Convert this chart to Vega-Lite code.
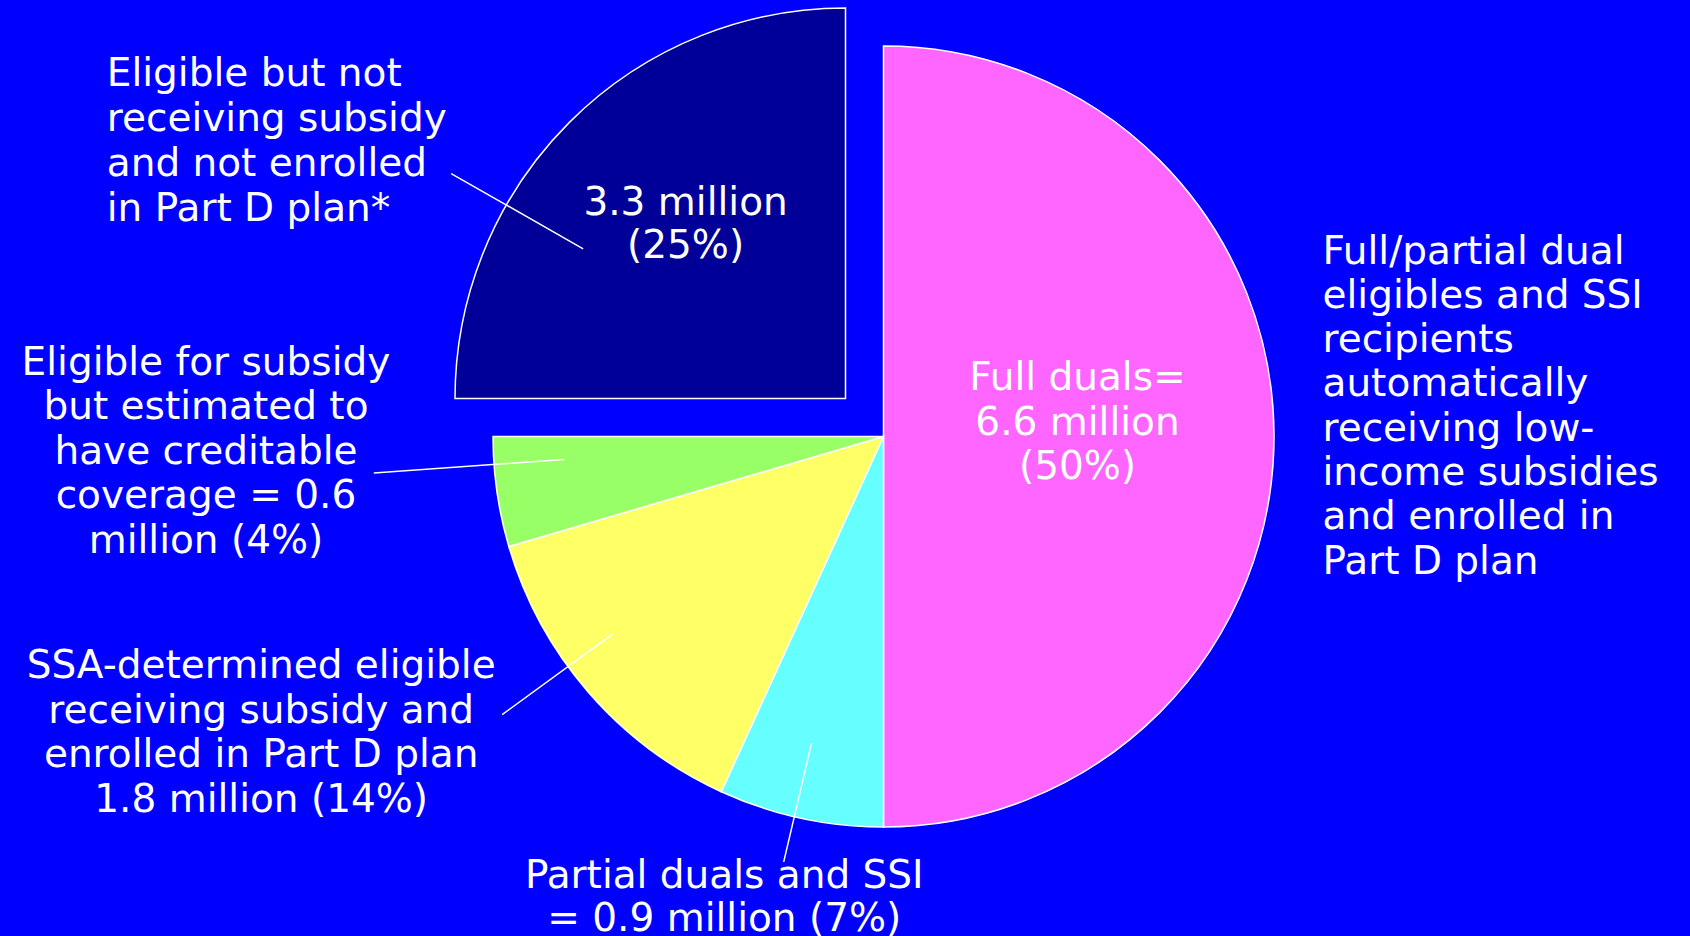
{
  "$schema": "https://vega.github.io/schema/vega-lite/v6.json",
  "autosize": "none",
  "width": 1613,
  "height": 873,
  "padding": {"left": 77, "top": 0, "right": 0, "bottom": 63},
  "background": "#0000FF",
  "config": {"view": {"stroke": null}, "text": {"font": "DejaVu Sans"}},
  "data": {
    "values": [
      {"segment": "Full duals", "millions": 6.6, "rank": 1,
       "inner": ["Full duals=", "6.6 million", "(50%)"],
       "label": ["Full/partial dual", "eligibles and SSI", "recipients", "automatically", "receiving low-", "income subsidies", "and enrolled in", "Part D plan"]},
      {"segment": "Partial duals and SSI", "millions": 0.9, "rank": 2,
       "label": ["Partial duals and SSI", "= 0.9 million (7%)"]},
      {"segment": "SSA-determined eligible", "millions": 1.8, "rank": 3,
       "label": ["SSA-determined eligible", "receiving subsidy and", "enrolled in Part D plan", "1.8 million (14%)"]},
      {"segment": "Eligible, creditable coverage", "millions": 0.6, "rank": 4,
       "label": ["Eligible for subsidy", "but estimated to", "have creditable", "coverage = 0.6", "million (4%)"]},
      {"segment": "Eligible, not enrolled", "millions": 3.3, "rank": 5,
       "inner": ["3.3 million", "(25%)"],
       "label": ["Eligible but not", "receiving subsidy", "and not enrolled", "in Part D plan*"]}
    ]
  },
  "encoding": {
    "theta": {"field": "millions", "type": "quantitative", "stack": true},
    "order": {"field": "rank", "type": "quantitative", "sort": "ascending"}
  },
  "layer": [
    {
      "mark": {"type": "arc", "outerRadius": 390.5, "stroke": "white", "strokeWidth": 1.5},
      "encoding": {
        "color": {"field": "segment", "type": "nominal", "legend": null,
          "scale": {"domain": ["Full duals", "Partial duals and SSI", "SSA-determined eligible", "Eligible, creditable coverage", "Eligible, not enrolled"],
                    "range": ["#FF66FF", "#66FFFF", "#FFFF66", "#99FF66", "#000099"]}},
        "opacity": {"condition": {"test": "datum.segment === 'Eligible, not enrolled'", "value": 0}, "value": 1}
      }
    },
    {
      "mark": {"type": "arc", "outerRadius": 390.5, "stroke": "white", "strokeWidth": 1.5, "xOffset": -38, "yOffset": -38},
      "encoding": {
        "color": {"field": "segment", "type": "nominal", "legend": null},
        "opacity": {"condition": {"test": "datum.segment === 'Eligible, not enrolled'", "value": 1}, "value": 0}
      }
    },
    {
      "mark": {"type": "arc", "filled": false, "color": "white", "strokeWidth": 1.5, "innerRadius": 302, "outerRadius": 454, "padAngle": 3.1, "thetaOffset": -0.267, "xOffset": -38, "yOffset": -38},
      "encoding": {"opacity": {"condition": {"test": "datum.segment === 'Eligible, not enrolled'", "value": 1}, "value": 0}}
    },
    {
      "mark": {"type": "arc", "filled": false, "color": "white", "strokeWidth": 1.5, "innerRadius": 320, "outerRadius": 511, "padAngle": 3.1, "thetaOffset": 0.0712},
      "encoding": {"opacity": {"condition": {"test": "datum.segment === 'Eligible, creditable coverage'", "value": 1}, "value": 0}}
    },
    {
      "mark": {"type": "arc", "filled": false, "color": "white", "strokeWidth": 1.5, "innerRadius": 335, "outerRadius": 472, "padAngle": 3.1, "thetaOffset": 0.0839},
      "encoding": {"opacity": {"condition": {"test": "datum.segment === 'SSA-determined eligible'", "value": 1}, "value": 0}}
    },
    {
      "mark": {"type": "arc", "filled": false, "color": "white", "strokeWidth": 1.5, "innerRadius": 315, "outerRadius": 437, "padAngle": 3.1, "thetaOffset": 0.0162},
      "encoding": {"opacity": {"condition": {"test": "datum.segment === 'Partial duals and SSI'", "value": 1}, "value": 0}}
    },
    {
      "mark": {"type": "text", "color": "white", "fontSize": 39, "lineHeight": 44.5, "align": "center", "baseline": "alphabetic", "radius": 194, "dx": 0, "dy": -46.5},
      "encoding": {"text": {"condition": {"test": "datum.segment === 'Full duals'", "field": "inner", "type": "nominal"}, "value": ""}}
    },
    {
      "mark": {"type": "text", "color": "white", "fontSize": 39, "lineHeight": 44.3, "align": "left", "baseline": "alphabetic", "radius": 439, "dx": 0, "dy": -173},
      "encoding": {"text": {"condition": {"test": "datum.segment === 'Full duals'", "field": "label", "type": "nominal"}, "value": ""}}
    },
    {
      "mark": {"type": "text", "color": "white", "fontSize": 39, "lineHeight": 43.5, "align": "center", "baseline": "alphabetic", "radius": 460, "dx": -61.5, "dy": 1.7},
      "encoding": {"text": {"condition": {"test": "datum.segment === 'Partial duals and SSI'", "field": "label", "type": "nominal"}, "value": ""}}
    },
    {
      "mark": {"type": "text", "color": "white", "fontSize": 39, "lineHeight": 44.5, "align": "center", "baseline": "alphabetic", "radius": 650, "dx": -131.1, "dy": -183.8},
      "encoding": {"text": {"condition": {"test": "datum.segment === 'SSA-determined eligible'", "field": "label", "type": "nominal"}, "value": ""}}
    },
    {
      "mark": {"type": "text", "color": "white", "fontSize": 39, "lineHeight": 44.4, "align": "center", "baseline": "alphabetic", "radius": 684, "dx": -0.5, "dy": -158.8},
      "encoding": {"text": {"condition": {"test": "datum.segment === 'Eligible, creditable coverage'", "field": "label", "type": "nominal"}, "value": ""}}
    },
    {
      "mark": {"type": "text", "color": "white", "fontSize": 39, "lineHeight": 45, "align": "left", "baseline": "alphabetic", "radius": 496, "dx": -426, "dy": 0},
      "encoding": {"text": {"condition": {"test": "datum.segment === 'Eligible, not enrolled'", "field": "label", "type": "nominal"}, "value": ""}}
    },
    {
      "mark": {"type": "text", "color": "white", "fontSize": 39, "lineHeight": 43.5, "align": "center", "baseline": "alphabetic", "radius": 270, "dx": -7, "dy": -31},
      "encoding": {"text": {"condition": {"test": "datum.segment === 'Eligible, not enrolled'", "field": "inner", "type": "nominal"}, "value": ""}}
    }
  ]
}
